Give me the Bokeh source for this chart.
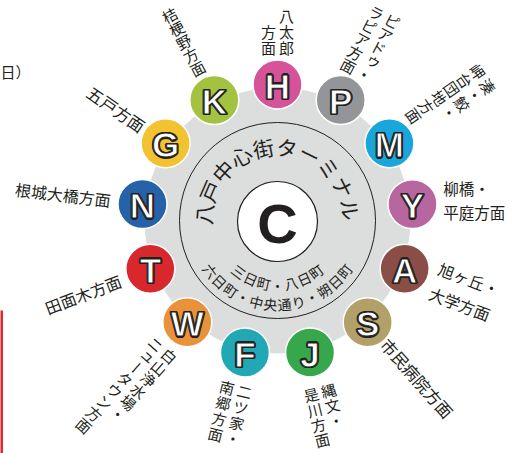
import math
from bokeh.plotting import figure
from bokeh.models import Range1d
from bokeh.core.properties import value
from bokeh.embed import file_html
from bokeh.resources import INLINE

# ---------------- data ----------------
route_letters = ["H", "P", "M", "Y", "A", "S", "J", "F", "W", "T", "N", "G", "K"]
route_colors = ["#D6539A", "#939598", "#1AA6DB", "#B7669F", "#8B4E47", "#B39F68", "#37A74B",
                "#22A8B4", "#E9923A", "#D8282E", "#2562A7", "#F2C231", "#A3C23F"]
route_destinations = [
    ["八太郎", "方面"],
    ["ピアドゥ・", "ラピア方面"],
    ["湊・鮫・", "岬台団地方面"],
    ["柳橋・", "平庭方面"],
    ["旭ヶ丘・", "大学方面"],
    ["市民病院方面"],
    ["縄文・", "是川方面"],
    ["二ツ家・", "南郷方面"],
    ["白山浄水場・", "ニュータウン方面"],
    ["田面木方面"],
    ["根城大橋方面"],
    ["五戸方面"],
    ["桔梗野方面"],
]
hub_letter = "C"
hub_name = "八戸中心街ターミナル"
hub_streets = ["三日町・八日町", "六日町・中央通り・朔日町"]
corner_text = "日）"

# ---------------- layout / style ----------------
W, H = 517, 453
CX, CY = 277, -220
R_RING, R_BUB, R_DISK, R_LINE, R_HUB = 136, 24.5, 133, 98, 40
INK = "#231F20"
EDGE_RED = "#E8262B"
JP = value("Noto Sans CJK JP")
LAT = value("Liberation Sans")

# (mode, radius, font px, char step) for each destination label
label_layout = [
    ("vin_end", 173, 15, 16), ("vin_end", 170, 15, 15), ("vin_start", 172, 15, 15.5),
    ("h_flat", 167, 15.5, 0), ("h_out", 168, 16, 0), ("h_out", 161, 16.5, 0),
    ("vout", 177, 15, 15.5), ("vout", 174, 15, 16), ("vout", 173, 15, 15.5),
    ("h_in", 168, 16, 0), ("h_in", 168, 16, 0), ("h_in", 163, 16.5, 0),
    ("vin_end", 172, 15, 15),
]

p = figure(width=W, height=H, x_range=Range1d(0, W), y_range=Range1d(-H, 0),
           output_backend="svg", toolbar_location=None, x_axis_location=None,
           y_axis_location=None, min_border=0, outline_line_color=None)
p.xgrid.visible = False
p.ygrid.visible = False
p.background_fill_color = "white"
p.border_fill_color = "white"

n = len(route_letters)
angles = [90 - i * 360.0 / n for i in range(n)]
bx = [CX + R_RING * math.cos(math.radians(a)) for a in angles]
by = [CY + R_RING * math.sin(math.radians(a)) for a in angles]

# gray disk, ring line, hub
p.circle(x=[CX], y=[CY], radius=R_DISK, fill_color="#DCDDDD", line_color=None)
p.circle(x=[CX], y=[CY], radius=R_LINE, fill_color=None, line_color=INK, line_width=1)
p.circle(x=[CX], y=[CY - 1], radius=R_HUB, fill_color="white", line_color=INK, line_width=1.2)
p.text(x=[CX], y=[CY - 1], text=[hub_letter], text_font=LAT, text_font_style="bold",
       text_font_size="56px", text_align="center", text_baseline="middle", text_color=INK,
       y_offset=2)

# route bubbles
p.circle(x=bx, y=by, radius=R_BUB, fill_color=route_colors, line_color="white", line_width=1.5)
# dark halo under the letters (outline effect)
for dx, dy in [(-1.4, 0), (1.4, 0), (0, -1.4), (0, 1.4), (-1, -1), (1, 1), (-1, 1), (1, -1)]:
    p.text(x=bx, y=by, text=route_letters, text_font=LAT, text_font_style="bold",
           text_font_size="35px", text_align="center", text_baseline="middle",
           text_color=INK, x_offset=dx, y_offset=1.5 + dy)
p.text(x=bx, y=by, text=route_letters, text_font=LAT, text_font_style="bold",
       text_font_size="35px", text_align="center", text_baseline="middle",
       text_color="white", text_outline_color=INK, y_offset=1.5)

# hub name along upper arc
xs, ys, ts, rs = [], [], [], []
for i, ch in enumerate(hub_name):
    a = 175 - 18.5 * i
    xs.append(CX + 74 * math.cos(math.radians(a)))
    ys.append(CY + 74 * math.sin(math.radians(a)))
    ts.append(ch)
    rs.append(a - 90)
p.text(x=xs, y=ys, text=ts, angle=rs, angle_units="deg", text_font=JP, text_font_size="21px",
       text_align="center", text_baseline="middle", text_color=INK)

# street names along lower arcs
xs, ys, ts, rs = [], [], [], []
for line, r, a0, a1 in [(hub_streets[0], 64, -127, -53), (hub_streets[1], 84, -143, -37)]:
    m = len(line)
    for i, ch in enumerate(line):
        a = a0 + (a1 - a0) * i / (m - 1)
        xs.append(CX + r * math.cos(math.radians(a)))
        ys.append(CY + r * math.sin(math.radians(a)))
        ts.append(ch)
        rs.append(a + 90)
p.text(x=xs, y=ys, text=ts, angle=rs, angle_units="deg", text_font=JP, text_font_size="14px",
       text_align="center", text_baseline="middle", text_color=INK)

# destination labels
SMALL = "ゥュッャョァィェォヶ"
vx, vy, vt, vr = [], [], [], []
for k, (cols, (mode, r, fs, step)) in enumerate(zip(route_destinations, label_layout)):
    th = angles[k]
    c, s = math.cos(math.radians(th)), math.sin(math.radians(th))
    if mode.startswith("v"):
        spacing = 18
        phi = th + 180 if mode.startswith("vin") else th
        ux, uy = math.cos(math.radians(phi)), math.sin(math.radians(phi))
        rot = phi + 90
        rx, ry = math.cos(math.radians(rot)), math.sin(math.radians(rot))
        ncol = len(cols)
        nmax = max(len(col) for col in cols)
        for j, col in enumerate(cols):
            lat = ((ncol - 1) / 2 - j) * spacing
            if mode == "vin_end":
                r0 = r + (len(col) - 1) * step
            elif mode == "vin_start":
                r0 = r + (nmax - 1) * step
            else:
                r0 = r
            x0 = CX + r0 * c + lat * rx
            y0 = CY + r0 * s + lat * ry
            for i, ch in enumerate(col):
                x = x0 + i * step * ux
                y = y0 + i * step * uy
                a = rot
                if ch == "ー":
                    a = rot + 90
                if ch in SMALL:
                    x += 0.15 * fs * rx - 0.15 * fs * ux
                    y += 0.15 * fs * ry - 0.15 * fs * uy
                vx.append(x); vy.append(y); vt.append(ch); vr.append(a)
    else:
        txt = "\n".join(cols)
        ax, ay = CX + r * c, CY + r * s
        if mode == "h_flat":
            ang, align = 0, "left"
        elif mode == "h_out":
            ang, align = th, "left"
        else:
            ang, align = th + 180, "right"
        p.text(x=[ax], y=[ay], text=[txt], angle=[ang], angle_units="deg", text_font=JP,
               text_font_size=f"{fs}px", text_align=align, text_baseline="middle",
               text_line_height=1.1, text_color=INK)
p.text(x=vx, y=vy, text=vt, angle=vr, angle_units="deg", text_font=JP, text_font_size="15px",
       text_align="center", text_baseline="middle", text_color=INK)

# caption fragment and red edge rule at the left border
p.text(x=[0], y=[-71], text=[corner_text], text_font=JP, text_font_size="15px",
       text_align="left", text_baseline="middle", text_color=INK)
p.segment(x0=[1], y0=[-310], x1=[1], y1=[-H], line_color=EDGE_RED, line_width=3)

open("out.html", "w").write(file_html(p, INLINE))
